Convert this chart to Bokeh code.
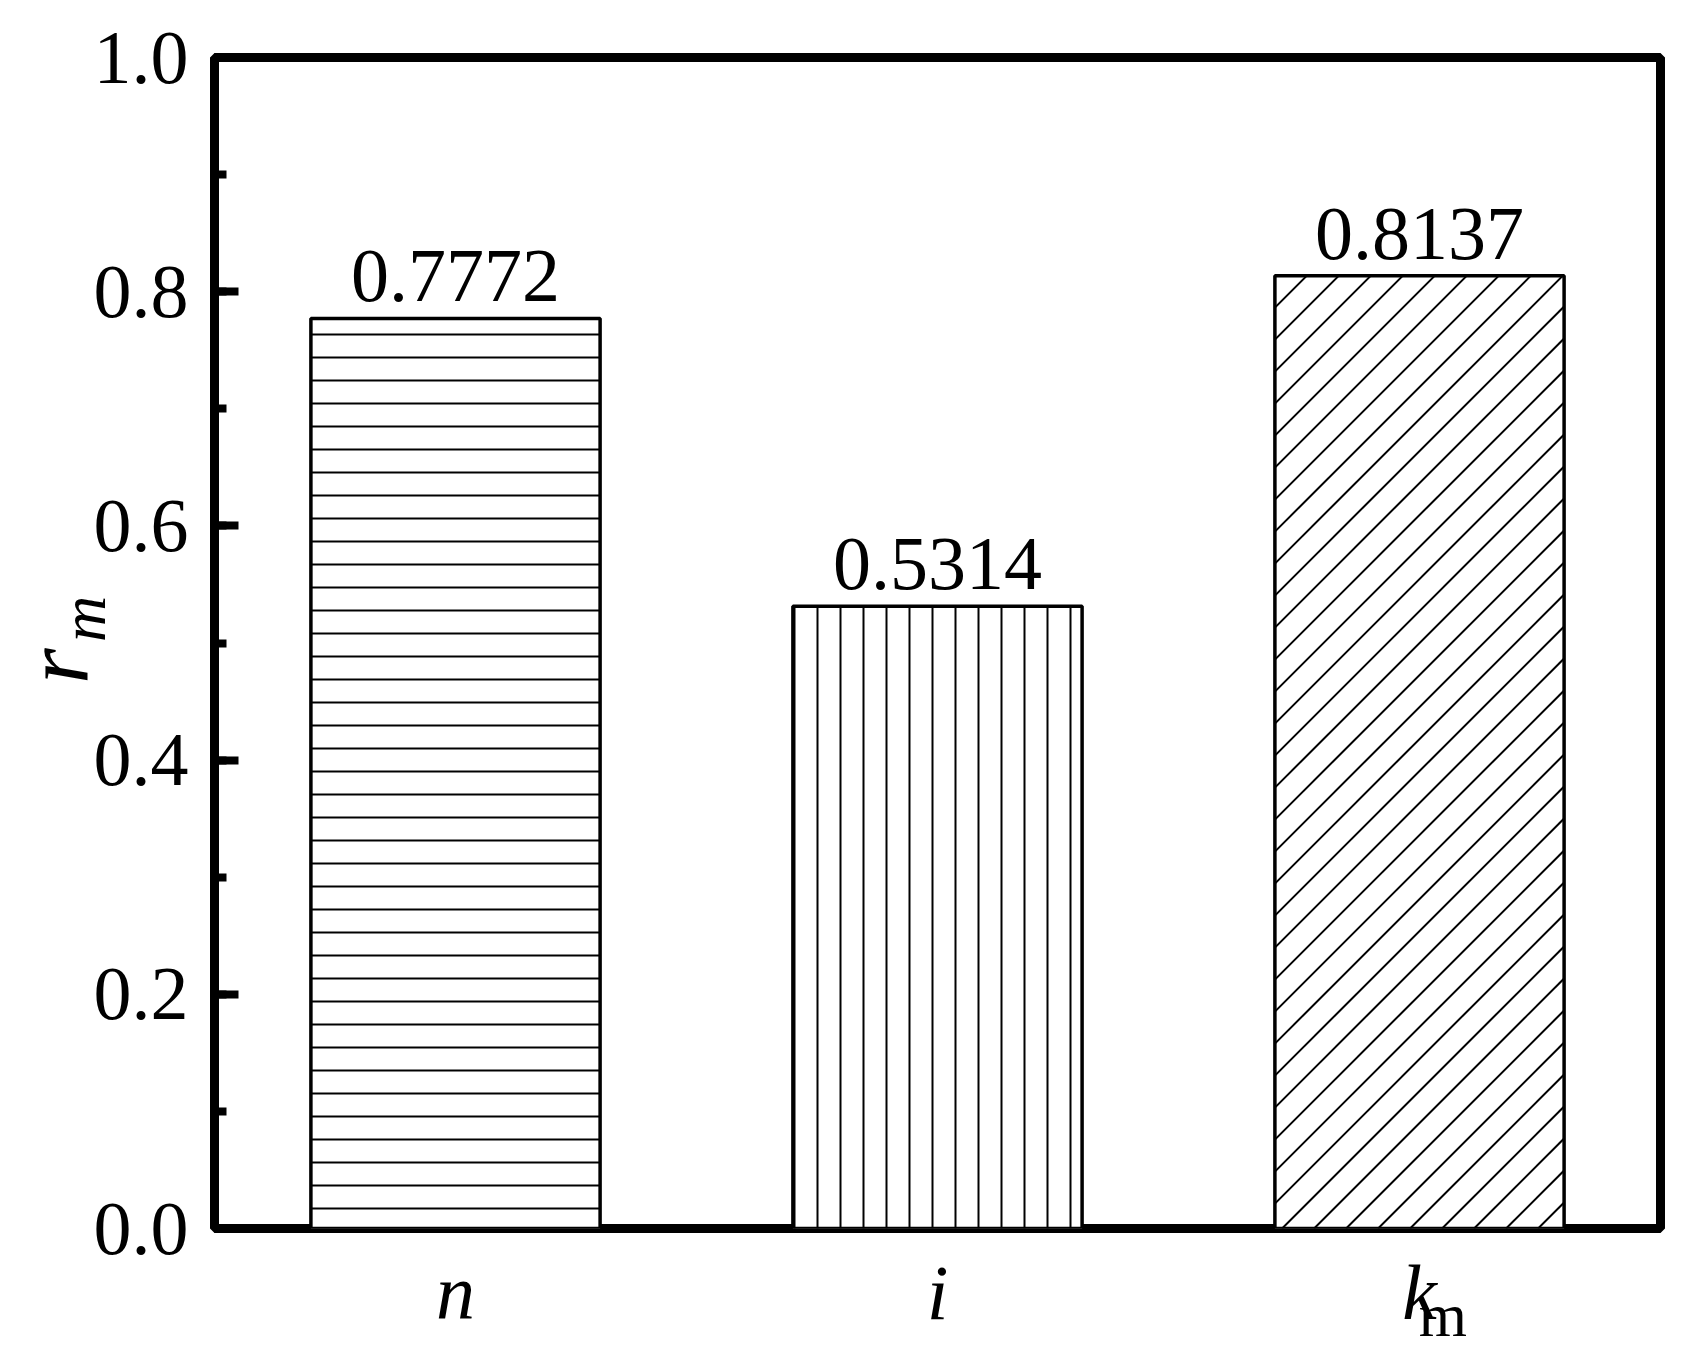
import numpy as np
from bokeh.plotting import figure
from bokeh.models import (ColumnDataSource, FactorRange, Range1d, LinearAxis, CategoricalAxis,
                          SingleIntervalTicker, FixedTicker, PrintfTickFormatter)
from bokeh.core.properties import value
from bokeh.embed import file_html
from bokeh.resources import INLINE

# data
categories = ["n", "i", "km"]
cat_names = ["n", "i", "k"]
cat_subs = ["", "", "m"]
r_m = [0.7772, 0.5314, 0.8137]

# per-bar fill style ("/" is drawn by hand at 45 degrees)
hatch_patterns = ["-", "|", "/"]

FONT = "Liberation Serif"
FRAME_W, FRAME_H = 1446, 1171
BAR_W = 0.6
Y_MAX = 1.0
NB = "\u00a0"

source = ColumnDataSource(data=dict(
    cat=categories,
    top=r_m,
    label=["{:.4f}".format(v) for v in r_m],
    hatch=[h if h != "/" else " " for h in hatch_patterns],
))

#- subscripts get their own category axis; blank ones must still be unique factors
sub_factors = [NB * 3 + s if s else " " * (k + 1) for k, s in enumerate(cat_subs)]

p = figure(x_range=FactorRange(*categories), y_range=Range1d(0, Y_MAX),
           frame_width=FRAME_W, frame_height=FRAME_H,
           min_border_left=214, min_border_top=57, min_border_right=30, min_border_bottom=120,
           toolbar_location=None, output_backend="svg", tools="")
p.extra_x_ranges = {"names": FactorRange(*cat_names), "subs": FactorRange(*sub_factors)}

p.vbar(x="cat", top="top", width=BAR_W, source=source,
       fill_color="white", line_color=None,
       hatch_pattern="hatch", hatch_scale=23, hatch_weight=2, hatch_color="black")

#- 45 degree diagonal hatch for "/" bars (synthetic x: factor k sits at k + 0.5)
ux = FRAME_W / len(categories)
uy = FRAME_H / Y_MAX
step = 32 / ux
x0, y0, x1, y1 = [], [], [], []
for k, (v, pat) in enumerate(zip(r_m, hatch_patterns)):
    if pat != "/":
        continue
    left, right = k + 0.5 - BAR_W / 2, k + 0.5 + BAR_W / 2
    for c in np.arange(left - v * uy / ux, right, step):
        ya = max(0.0, (left - c) * ux / uy)
        yb = min(v, (right - c) * ux / uy)
        if yb > ya:
            x0.append(float(c + ya * uy / ux)); y0.append(float(ya))
            x1.append(float(c + yb * uy / ux)); y1.append(float(yb))
p.segment(x0=x0, y0=y0, x1=x1, y1=y1, line_color="black", line_width=2)

#- bar outlines on top of the hatching
p.vbar(x="cat", top="top", width=BAR_W, source=source,
       fill_color=None, line_color="black", line_width=3.5)

p.text(x="cat", y="top", text="label", source=source,
       text_font=value(FONT), text_font_size="76px", text_color="black",
       text_align="center", text_baseline="alphabetic", y_offset=-42)

p.grid.visible = False
p.outline_line_color = "black"
p.outline_line_width = 9
p.outline_line_alpha = 1.0

#- y axis: inward ticks, one minor tick between majors; carries the subscript m
yax = p.yaxis[0]
yax.ticker = SingleIntervalTicker(interval=0.2, num_minor_ticks=2)
yax.formatter = PrintfTickFormatter(format="%.1f")
yax.axis_line_color = None
yax.major_tick_in = 24
yax.major_tick_out = 0
yax.major_tick_line_width = 8
yax.minor_tick_in = 12
yax.minor_tick_out = 0
yax.minor_tick_line_width = 8
yax.major_label_text_font = FONT
yax.major_label_text_font_size = "76px"
yax.major_label_text_color = "black"
yax.major_label_standoff = 26
yax.axis_label = NB * 3 + "m"
yax.axis_label_text_font = FONT
yax.axis_label_text_font_style = "italic"
yax.axis_label_text_font_size = "64px"
yax.axis_label_text_color = "black"
yax.axis_label_standoff = -28

#- outer left axis holding only the title letter r
rax = LinearAxis(ticker=FixedTicker(ticks=[]), axis_label="r" + NB * 2,
                 axis_line_color=None, major_tick_line_color=None,
                 minor_tick_line_color=None, major_tick_in=0, major_tick_out=0,
                 minor_tick_in=0, minor_tick_out=0, major_label_standoff=0,
                 axis_label_text_font=FONT, axis_label_text_font_style="italic",
                 axis_label_text_font_size="92px", axis_label_text_color="black",
                 axis_label_standoff=-62)
p.add_layout(rax, "left")

#- x labels: italic names on one axis, upright subscripts on a second one
xax = p.xaxis[0]
xax.x_range_name = "names"
sax = CategoricalAxis(x_range_name="subs")
p.add_layout(sax, "below")
for ax, size, style, standoff in [(xax, "78px", "italic", 20), (sax, "62px", "normal", -58)]:
    ax.axis_line_color = None
    ax.major_tick_line_color = None
    ax.minor_tick_line_color = None
    ax.major_tick_in = 0
    ax.major_tick_out = 0
    ax.major_label_text_font = FONT
    ax.major_label_text_font_style = style
    ax.major_label_text_font_size = size
    ax.major_label_text_color = "black"
    ax.major_label_standoff = standoff

open("out.html", "w").write(file_html(p, INLINE))
